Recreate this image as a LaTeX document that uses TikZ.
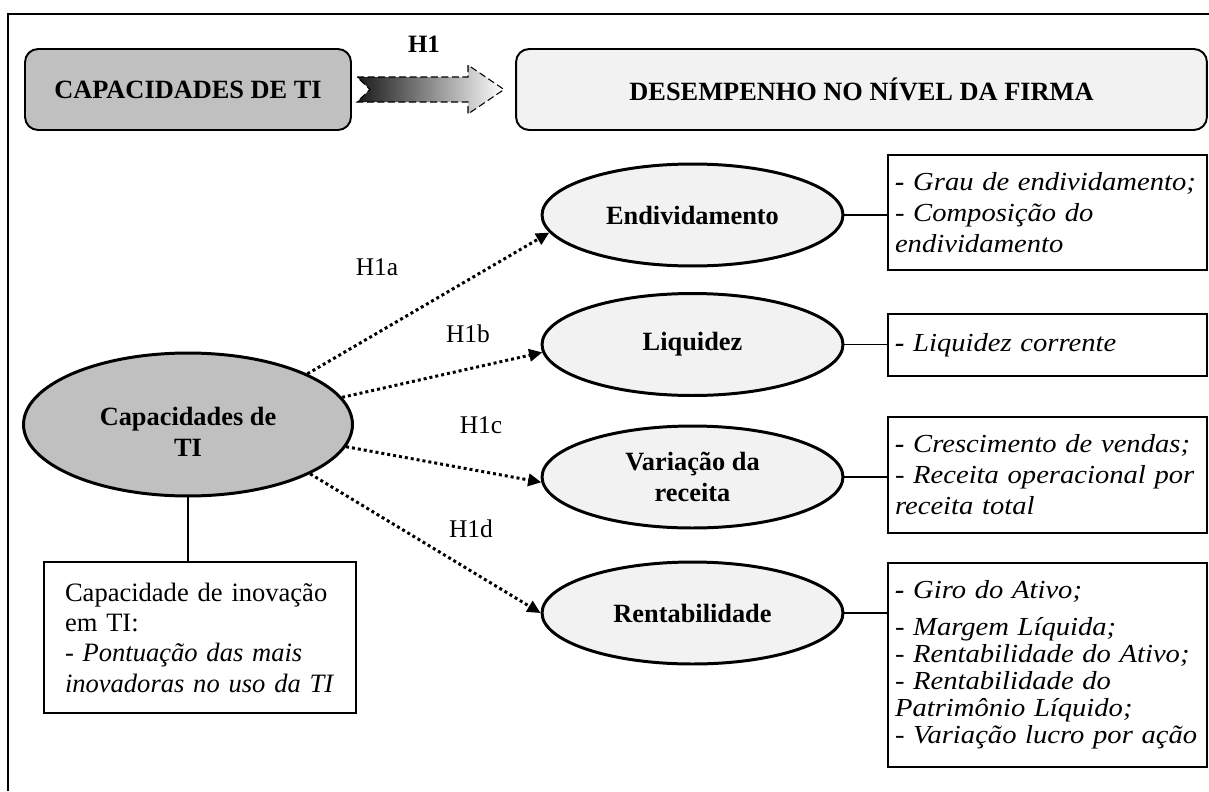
\documentclass[tikz,border=0pt]{standalone}
\usepackage{fontspec}
\setmainfont{Liberation Serif}
\newfontfamily\indfont[FakeStretch=1.1]{Liberation Serif}
\usetikzlibrary{shapes.geometric,arrows.meta}
\definecolor{capgrey}{RGB}{192,192,192}
\definecolor{palegrey}{RGB}{242,242,242}

\begin{document}
\begin{tikzpicture}[x=0.02cm, y=-0.02cm,
  headbox/.style={draw, line width=1.1pt, rounded corners=0.26cm, minimum height=1.62cm, font=\fontsize{15}{18}\selectfont\bfseries},
  construct/.style={ellipse, draw, line width=1.7pt, fill=palegrey, minimum width=6.02cm, minimum height=2.04cm, align=center, font=\fontsize{15}{17.5}\selectfont\bfseries},
  indicator/.style={draw, line width=1.1pt, text width=6.1cm, inner xsep=0.14cm, align=left, font=\indfont\itshape\fontsize{14.8}{17.6}\selectfont},
  hyp/.style={-{Triangle[length=7.5pt,width=7pt]}, line width=1.7pt, dash pattern=on 1.7pt off 1.7pt},
  link/.style={line width=0.85pt},
  hlabel/.style={font=\fontsize{14.5}{17}\selectfont}]
% Basic parameters (pixel grid)
\def\colx{692.5}
\def\boxx{1047.5}

\useasboundingbox (0,0) rectangle (1209,791);

% Outer frame
\draw[line width=1.1pt] (8,791) -- (8,14) -- (1209,14);

% Top row
\node[headbox, fill=capgrey, minimum width=6.52cm] (captop) at (188,89.5) {CAPACIDADES DE TI};
\node[headbox, fill=palegrey, minimum width=13.82cm] (firm) at (861.5,89.5) {DESEMPENHO NO NÍVEL DA FIRMA};
\shadedraw[left color=black!90, right color=white, draw=black, dash pattern=on 4pt off 2pt, line width=0.6pt]
  (357,77) -- (468,77) -- (468,65) -- (504,89.5) -- (468,114) -- (468,102) -- (357,102) -- (370,89.5) -- cycle;
\node[font=\fontsize{14.2}{17}\selectfont\bfseries] (hone) at (424,44) {H1};

% Main construct
\node[ellipse, draw, line width=1.7pt, fill=capgrey, minimum width=6.58cm, minimum height=2.86cm, align=center,
  font=\fontsize{15}{17.5}\selectfont\bfseries] (cap) at (188,424.5) {\rule{0pt}{19pt}Capacidades de\\TI};
\node[draw, line width=1.1pt, text width=5.4cm, inner xsep=0.42cm, minimum height=3.02cm, align=left,
  font=\fontsize{15.1}{17.25}\selectfont] (inov) at (200,637.5)
  {Capacidade de inovação\\em TI:\\\textit{- Pontuação das mais}\\\textit{inovadoras no uso da TI}};
\draw[link] (cap.south) -- (cap.south |- inov.north);

% Performance dimensions
\node[construct] (endiv) at (\colx,215) {Endividamento};
\node[construct] (liq) at (\colx,344.5) {Liquidez};
\node[construct] (var) at (\colx,477) {Variação da\\receita};
\node[construct] (rent) at (\colx,613) {Rentabilidade};

% Indicator boxes
\node[indicator, minimum height=2.3cm] (endivind) at (\boxx,212.5)
  {\textbf{-} Grau de endividamento;\\- Composição do\\endividamento};
\node[indicator, minimum height=1.24cm] (liqind) at (\boxx,345) {\textbf{-} Liquidez corrente};
\node[indicator, minimum height=2.32cm] (varind) at (\boxx,475)
  {\textbf{-} Crescimento de vendas;\\- Receita operacional por\\receita total};
\node[indicator, minimum height=4.08cm, font=\indfont\itshape\fontsize{14.8}{15.4}\selectfont] (rentind) at (\boxx,665)
  {\textbf{-} Giro do Ativo;\\[0.2cm]- Margem Líquida;\\- Rentabilidade do Ativo;\\- Rentabilidade do\\Patrimônio Líquido;\\- Variação lucro por ação};

\draw[link] (endiv.east) -- (endiv.east -| endivind.west);
\draw[link] (liq.east) -- (liq.east -| liqind.west);
\draw[link] (var.east) -- (var.east -| varind.west);
\draw[link] (rent.east) -- (rent.east -| rentind.west);

% Hypotheses
\draw[hyp] (cap.23) -- (endiv.187);
\draw[hyp] (cap.10) -- (liq.183);
\draw[hyp] (cap.352) -- (var.182);
\draw[hyp] (cap.338) -- (rent.180);

\node[hlabel] (lba) at (377,267) {H1a};
\node[hlabel] (lbb) at (468,334) {H1b};
\node[hlabel] (lbc) at (481,425) {H1c};
\node[hlabel] (lbd) at (471,529) {H1d};
\end{tikzpicture}
\end{document}
